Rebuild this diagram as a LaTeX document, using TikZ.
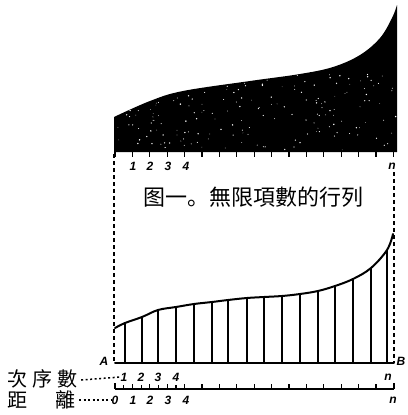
\documentclass[tikz,border=0pt]{standalone}
\usepackage{fontspec}
\newfontfamily\cjk{Noto Sans CJK TC}
\newfontfamily\cjksc{Noto Sans CJK SC}
\newfontfamily\numf{Liberation Sans}
\begin{document}
\begin{tikzpicture}[x=1pt,y=-1pt,
  num/.style={font=\numf\bfseries\itshape\fontsize{12}{12}\selectfont, inner sep=0pt},
  cjkl/.style={font=\cjk\fontsize{20}{20}\selectfont, inner sep=0pt},
  guide/.style={line width=1.8pt, dash pattern=on 4pt off 3pt},
  leader/.style={line width=1.5pt, dash pattern=on 2pt off 2.5pt},
  stem/.style={line width=1.4pt},
  heavy/.style={line width=2pt, line cap=round, line join=round}]
\useasboundingbox (0,0) rectangle (407,415);
% top dark area
\fill (114,152) -- plot[smooth, tension=0.6] coordinates {(114,117) (150,101) (183,91) (250,81) (300,74) (333,67) (360,55) (380,38) (392,18) (397,5)} -- (397,152) -- cycle;
\begin{scope}
\clip (114,152) -- plot[smooth, tension=0.6] coordinates {(114,117) (150,101) (183,91) (250,81) (300,74) (333,67) (360,55) (380,38) (392,18) (397,5)} -- (397,152) -- cycle;
\pgfmathsetseed{7}
\foreach \i in {1,...,200}{
  \pgfmathsetmacro\rx{116+rnd*280}
  \pgfmathsetmacro\ry{70+rnd*80}
  \pgfmathsetmacro\rr{0.3+rnd*0.5}
  \fill[white] (\rx,\ry) circle (\rr);
}
\end{scope}
\foreach \k in {0,...,16} \draw[line width=1.3pt] ({115+17.4*\k},151) -- ++(0,6);
\node[num] (t1) at (133,166) {1};
\node[num] (t2) at (150,166) {2};
\node[num] (t3) at (168,166) {3};
\node[num] (t4) at (186,166) {4};
\node[num] (tn) at (392,166) {n};
% title
\node[inner sep=0pt, font=\cjksc\fontsize{22}{22}\selectfont] (title) at (253,197) {图一。無限項數的行列};
% guide lines
\coordinate (gl1) at (114,154);
\coordinate (gl2) at (114,363);
\coordinate (gr1) at (394,172);
\coordinate (gr2) at (394,363);
\draw[guide] (gl1) -- (gl2);
\draw[guide] (gr1) -- (gr2);
% bottom chart
\draw[heavy] plot[smooth, tension=0.6] coordinates {(115,328) (125,323) (142,317) (158,310) (176,307) (194,304) (212,302) (228,300) (247,298) (264,297) (282,296) (300,294) (318,291) (335,286) (353,279) (371,268) (387,250) (393,234)};
\foreach \x/\y in {125/323,142/317,158/310,176/307,194/304,212/302,228/300,247/298,264/297,282/296,300/294,318/291,335/286,353/279,371/268,387/250}
  \draw[stem] (\x,363) -- (\x,\y);
\coordinate (A0) at (115,363);
\coordinate (B0) at (394,363);
\draw[heavy] (A0) -- (B0);
\node[num] (A) at (104,361) {A};
\node[num] (B) at (401,361) {B};
% order numbers
\node[num] (o1) at (124,377) {1};
\node[num] (o2) at (141,377) {2};
\node[num] (o3) at (158,377) {3};
\node[num] (o4) at (176,377) {4};
\node[num] (on) at (388,377) {n};
% ruler
\coordinate (R0) at (115,389);
\coordinate (R1) at (394,389);
\draw[line width=1.4pt] (R0) -- (R1);
\draw[line width=1.4pt] (115,383) -- (115,389);
\draw[line width=1.4pt] (394,383) -- (394,389);
\foreach \k in {1,...,15} \draw[line width=1.3pt] ({115+17.4*\k},384) -- ++(0,5);
\foreach \k in {0,...,3} \draw[line width=1.2pt] ({123.7+17.4*\k},385) -- ++(0,4);
\node[num] (d0) at (115,400) {0};
\node[num] (d1) at (133,400) {1};
\node[num] (d2) at (150,400) {2};
\node[num] (d3) at (168,400) {3};
\node[num] (d4) at (186,400) {4};
\node[num] (dn) at (393,400) {n};
% left labels
\node[cjkl] (ci) at (17,379) {次};
\node[cjkl] (xu) at (42,379) {序};
\node[cjkl] (shu) at (67,379) {數};
\node[cjkl] (ju) at (17,400) {距};
\node[cjkl] (li) at (65,400) {離};
\draw[leader] (shu.east) ++(4,1) -- (o1.west);
\draw[leader] (li.east) ++(4,0) -- (d0.west);
\end{tikzpicture}
\end{document}
